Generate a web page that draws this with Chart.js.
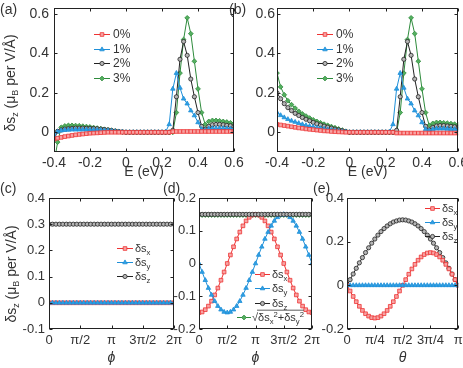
<!DOCTYPE html>
<html>
<head>
<meta charset="utf-8">
<title>spin response panels</title>
<script src="https://cdn.jsdelivr.net/npm/chart.js@4.4.0/dist/chart.umd.min.js"></script>
<style>
  body { margin: 0; background: #fff; }
  #fig { position: relative; width: 463px; height: 368px; overflow: hidden;
         font-family: "Liberation Sans", Arial, Helvetica, sans-serif; color: #333; }
  #fig canvas { position: absolute; left: 0; top: 0; }
  .tag { position: absolute; font-size: 14px; line-height: 16px; z-index: 5; }
  .ylab { position: absolute; font-size: 14px; line-height: 16px; white-space: nowrap; z-index: 5;
          transform: translate(-50%, -50%) rotate(-90deg); }
  .ylab sub { font-size: 9px; vertical-align: -3px; line-height: 0; }
</style>
</head>
<body>
<div id="fig">
  <canvas id="ca" width="463" height="368"></canvas>
  <canvas id="cb" width="463" height="368"></canvas>
  <canvas id="cc" width="463" height="368"></canvas>
  <canvas id="cd" width="463" height="368"></canvas>
  <canvas id="ce" width="463" height="368"></canvas>
  <div class="tag" style="left:0;top:1px">(a)</div>
  <div class="tag" style="left:229px;top:1px">(b)</div>
  <div class="tag" style="left:0;top:180px">(c)</div>
  <div class="tag" style="left:163px;top:180px">(d)</div>
  <div class="tag" style="left:313px;top:180px">(e)</div>
  <div class="ylab" style="left:10px;top:83px">δs<sub>z</sub> (μ<sub>B</sub> per V/Å)</div>
  <div class="ylab" style="left:11px;top:274px">δs<sub>z</sub> (μ<sub>B</sub> per V/Å)</div>
</div>
<script>
// energies for (a), (b)
var E = [-0.4,-0.38,-0.36,-0.34,-0.32,-0.3,-0.28,-0.26,-0.24,-0.22,-0.2,-0.18,-0.16,-0.14,-0.12,-0.1,-0.08,-0.06,-0.04,-0.02,
  0,0.02,0.04,0.06,0.08,0.1,0.12,0.14,0.16,0.18,0.2,0.22,0.24,0.26,0.28,0.3,0.32,0.34,0.36,0.38,0.4,0.42,0.44,0.46,0.48,0.5,0.52,0.54,0.56,0.58,0.6];
var strainLabels = ['0%', '1%', '2%', '3%'];

// (a)
var a0 = [-0.035,-0.03,-0.026,-0.022,-0.019,-0.016,-0.013,-0.011,-0.009,-0.007,-0.005,-0.004,-0.003,-0.002,-0.001,0,
  0,0,0,0,0,0,0,0,0,0,0,0,0,0,0,0,0,
  0.003,0.004,0.004,0.004,0.004,0.004,0.004,0.004,0.004,0.004,0.004,0.004,0.004,0.004,0.004,0.004,0.004,0.004];
var a1 = [-0.015,0.003,0.008,0.011,0.012,0.013,0.013,0.013,0.013,0.013,0.012,0.012,0.011,0.01,0.009,0.008,0.006,0.004,0.002,0.001,0,
  0,0,0,0,0,0,0,0,0,0,
  0.002,0.04,0.22,0.3,0.225,0.17,0.145,0.11,0.085,0.05,0.015,0.01,0.018,0.02,0.02,0.02,0.02,0.019,0.018,0.017];
var a2 = [-0.035,0.005,0.012,0.016,0.018,0.02,0.021,0.021,0.021,0.02,0.02,0.019,0.018,0.016,0.014,0.012,0.009,0.006,0.004,0.002,0,
  0,0,0,0,0,0,0,0,0,0,0,0,
  0.01,0.18,0.37,0.46,0.39,0.27,0.18,0.1,0.03,0.015,0.03,0.038,0.04,0.04,0.038,0.035,0.033,0.03];
var a3 = [-0.16,-0.05,0.025,0.032,0.035,0.035,0.034,0.033,0.031,0.029,0.027,0.024,0.021,0.018,0.015,0.012,0.009,0.006,0.004,0.002,0,
  0,0,0,0,0,0,0,0,0,0,0,0,0,
  0.1,0.3,0.47,0.58,0.5,0.36,0.22,0.1,0.04,0.055,0.06,0.06,0.058,0.055,0.052,0.048,0.045];

// (b)
var b0 = [0.04,0.037,0.034,0.031,0.028,0.025,0.022,0.02,0.017,0.015,0.013,0.011,0.009,0.007,0.006,0.004,0.003,0.002,0.001,0,0,
  0,0,0,0,0,0,0,0,0,0,0,0,
  -0.004,-0.004,-0.004,-0.004,-0.004,-0.004,-0.004,-0.004,-0.004,-0.004,-0.004,-0.004,-0.004,-0.004,-0.004,-0.004,-0.004,-0.004];
var b1 = [0.1,0.086,0.075,0.066,0.058,0.052,0.046,0.04,0.035,0.031,0.027,0.023,0.02,0.017,0.014,0.011,0.008,0.006,0.004,0.002,0,
  0,0,0,0,0,0,0,0,0,0,
  0.002,0.04,0.22,0.3,0.225,0.17,0.145,0.11,0.085,0.05,0.015,0.008,0.015,0.018,0.018,0.018,0.017,0.016,0.015,0.014];
var b2 = [0.2,0.17,0.145,0.125,0.11,0.096,0.085,0.075,0.066,0.058,0.05,0.043,0.037,0.031,0.026,0.021,0.016,0.012,0.008,0.004,0,
  0,0,0,0,0,0,0,0,0,0,0,0,
  0.01,0.18,0.37,0.46,0.39,0.27,0.18,0.1,0.03,0.012,0.025,0.032,0.034,0.034,0.032,0.03,0.028,0.026];
var b3 = [0.3,0.23,0.19,0.16,0.14,0.122,0.106,0.093,0.082,0.072,0.063,0.055,0.048,0.041,0.035,0.029,0.023,0.017,0.011,0.005,0,
  0,0,0,0,0,0,0,0,0,0,0,0,0,
  0.1,0.3,0.47,0.58,0.5,0.36,0.22,0.1,0.035,0.045,0.05,0.05,0.048,0.046,0.044,0.041,0.038];

// (c), (d): phi in degrees
var phi = [0,10,20,30,40,50,60,70,80,90,100,110,120,130,140,150,160,170,180,190,200,210,220,230,240,250,260,270,280,290,300,310,320,330,340,350,360];
var cX = [0,0,0,0,0,0,0,0,0,0, 0,0,0,0,0,0,0,0,0,0, 0,0,0,0,0,0,0,0,0,0, 0,0,0,0,0,0,0];
var cY = [0,0,0,0,0,0,0,0,0,0, 0,0,0,0,0,0,0,0,0,0, 0,0,0,0,0,0,0,0,0,0, 0,0,0,0,0,0,0];
var cZ = [0.3,0.3,0.3,0.3,0.3,0.3,0.3,0.3,0.3,0.3, 0.3,0.3,0.3,0.3,0.3,0.3,0.3,0.3,0.3,0.3,
  0.3,0.3,0.3,0.3,0.3,0.3,0.3,0.3,0.3,0.3, 0.3,0.3,0.3,0.3,0.3,0.3,0.3];
var dX = [-0.15,-0.148,-0.141,-0.13,-0.115,-0.096,-0.075,-0.051,-0.026,0,0.026,0.051,0.075,0.096,0.115,0.13,0.141,0.148,0.15,
  0.148,0.141,0.13,0.115,0.096,0.075,0.051,0.026,0,-0.026,-0.051,-0.075,-0.096,-0.115,-0.13,-0.141,-0.148,-0.15];
var dY = [0,-0.026,-0.051,-0.075,-0.096,-0.115,-0.13,-0.141,-0.148,-0.15,-0.148,-0.141,-0.13,-0.115,-0.096,-0.075,-0.051,-0.026,0,
  0.026,0.051,0.075,0.096,0.115,0.13,0.141,0.148,0.15,0.148,0.141,0.13,0.115,0.096,0.075,0.051,0.026,0];
var dZ = [0.15,0.15,0.15,0.15,0.15,0.15,0.15,0.15,0.15,0.15, 0.15,0.15,0.15,0.15,0.15,0.15,0.15,0.15,0.15,0.15,
  0.15,0.15,0.15,0.15,0.15,0.15,0.15,0.15,0.15,0.15, 0.15,0.15,0.15,0.15,0.15,0.15,0.15];
var dR = [0.148,0.148,0.148,0.148,0.148,0.148,0.148,0.148,0.148,0.148, 0.148,0.148,0.148,0.148,0.148,0.148,0.148,0.148,0.148,0.148,
  0.148,0.148,0.148,0.148,0.148,0.148,0.148,0.148,0.148,0.148, 0.148,0.148,0.148,0.148,0.148,0.148,0.148];

// (e): theta in degrees
var theta = [0,5,10,15,20,25,30,35,40,45,50,55,60,65,70,75,80,85,90,95,100,105,110,115,120,125,130,135,140,145,150,155,160,165,170,175,180];
var eX = [0,-0.026,-0.051,-0.075,-0.096,-0.115,-0.13,-0.141,-0.148,-0.15,-0.148,-0.141,-0.13,-0.115,-0.096,-0.075,-0.051,-0.026,0,
  0.026,0.051,0.075,0.096,0.115,0.13,0.141,0.148,0.15,0.148,0.141,0.13,0.115,0.096,0.075,0.051,0.026,0];
var eY = [0,0,0,0,0,0,0,0,0,0, 0,0,0,0,0,0,0,0,0,0, 0,0,0,0,0,0,0,0,0,0, 0,0,0,0,0,0,0];
var eZ = [0,0.026,0.052,0.078,0.103,0.127,0.15,0.172,0.193,0.212,0.23,0.246,0.26,0.272,0.282,0.29,0.295,0.299,0.3,
  0.299,0.295,0.29,0.282,0.272,0.26,0.246,0.23,0.212,0.193,0.172,0.15,0.127,0.103,0.078,0.052,0.026,0];

// ticks
var ticksE = [-0.4, -0.2, 0, 0.2, 0.4, 0.6];
var ticksAB = [0, 0.2, 0.4, 0.6];
var ticksPhi = [0, 90, 180, 270, 360];
var labelsPhi = ['0', 'π/2', 'π', '3π/2', '2π'];
var ticksTheta = [0, 45, 90, 135, 180];
var labelsTheta = ['0', 'π/4', 'π/2', '3π/4', 'π'];
var ticksC = [-0.1, 0, 0.1, 0.2, 0.3, 0.4];
var ticksD = [-0.2, -0.1, 0, 0.1, 0.2];
var ticksEy = [-0.2, 0, 0.2, 0.4];

var FONT = '"Liberation Sans", Arial, Helvetica, sans-serif';
var TXT = '#333';
var RED = {line: '#ee3333', fill: '#f7a3a3', style: 'rect', r: 2.6};
var BLUE = {line: '#1e8fd8', fill: '#2f9fe3', style: 'triangle', r: 2.6};
var BLACK = {line: '#222', fill: '#b5b5b5', style: 'circle', r: 2.1};
var GREEN = {line: '#2e8b3c', fill: '#55b060', style: 'rectRot', r: 2.4};

function fmt(v) {
    return String(Math.round(v * 100) / 100);
}

function series(xs, ys, st, order) {
    return {
        data: xs.map(function (x, i) { return {x: x, y: ys[i]}; }),
        borderColor: st.line, borderWidth: 1, tension: 0,
        pointStyle: st.style, pointRadius: st.r, pointBorderWidth: 0.8,
        pointBorderColor: st.line, pointBackgroundColor: st.fill,
        order: order || 0
    };
}

// box with inward ticks on all four sides
var framePlugin = {
    id: 'frame',
    afterDraw: function (chart) {
        var ctx = chart.ctx, a = chart.chartArea, sx = chart.scales.x, sy = chart.scales.y;
        var l = Math.round(a.left) + 0.5, r = Math.round(a.right) - 0.5;
        var t = Math.round(a.top) + 0.5, b = Math.round(a.bottom) - 0.5;
        ctx.save();
        ctx.strokeStyle = '#222';
        ctx.lineWidth = 1;
        ctx.strokeRect(l, t, r - l, b - t);
        ctx.beginPath();
        sx.ticks.forEach(function (tk) {
            var p = Math.round(sx.getPixelForValue(tk.value)) + 0.5;
            ctx.moveTo(p, b); ctx.lineTo(p, b - 3);
            ctx.moveTo(p, t); ctx.lineTo(p, t + 3);
        });
        sy.ticks.forEach(function (tk) {
            var p = Math.round(sy.getPixelForValue(tk.value)) + 0.5;
            ctx.moveTo(l, p); ctx.lineTo(l + 3, p);
            ctx.moveTo(r, p); ctx.lineTo(r - 3, p);
        });
        ctx.stroke();
        ctx.restore();
    }
};

// text with sub/superscripts and an optional overline
function drawRich(ctx, parts, x, y, size) {
    var cx = x, o0 = null, o1 = null;
    ctx.fillStyle = TXT;
    ctx.textAlign = 'left';
    ctx.textBaseline = 'alphabetic';
    parts.forEach(function (p) {
        var fs = (p.sub || p.sup) ? size * 0.7 : size;
        ctx.font = fs + 'px ' + FONT;
        var dy = p.sub ? size * 0.3 : (p.sup ? -size * 0.4 : 0);
        ctx.fillText(p.t, cx, y + size * 0.36 + dy);
        var w = ctx.measureText(p.t).width;
        if (p.over) {
            if (o0 === null) o0 = cx;
            o1 = cx + w;
        }
        cx += w;
    });
    if (o0 !== null) {
        ctx.strokeStyle = TXT;
        ctx.lineWidth = 0.8;
        ctx.beginPath();
        ctx.moveTo(o0 - 1, y - size * 0.62);
        ctx.lineTo(o1, y - size * 0.62);
        ctx.stroke();
    }
}

function makeLegend(items, size) {
    return {
        id: 'panelLegend',
        afterDraw: function (chart) {
            var ctx = chart.ctx;
            items.forEach(function (it) {
                var ds = chart.data.datasets[it.ds];
                ctx.save();
                ctx.strokeStyle = ds.borderColor;
                ctx.lineWidth = 1;
                ctx.beginPath();
                ctx.moveTo(it.x0, it.y + 0.5);
                ctx.lineTo(it.x1, it.y + 0.5);
                ctx.stroke();
                ctx.fillStyle = ds.pointBackgroundColor;
                ctx.strokeStyle = ds.pointBorderColor;
                ctx.lineWidth = 0.8;
                Chart.helpers.drawPoint(ctx, {pointStyle: ds.pointStyle, radius: ds.pointRadius, rotation: 0, borderWidth: 0.8},
                    (it.x0 + it.x1) / 2, it.y + 0.5);
                drawRich(ctx, it.parts, it.tx, it.y, size);
                ctx.restore();
            });
        }
    };
}

function panel(id, box, xo, yo, datasets, legendItems, legendSize) {
    var W = 463, H = 368;
    var pb = H - xo.titleY - 14 * 1.2 / 2;
    var xh = H - pb - box.B;
    return new Chart(document.getElementById(id), {
        type: 'line',
        data: {datasets: datasets},
        options: {
            responsive: false,
            animation: false,
            devicePixelRatio: 1,
            layout: {padding: {left: 0, top: box.T, right: W - box.R, bottom: pb}},
            plugins: {legend: {display: false}, tooltip: {enabled: false}},
            scales: {
                x: {
                    type: 'linear', min: xo.min, max: xo.max,
                    grid: {display: false, drawTicks: false}, border: {display: false},
                    afterBuildTicks: function (s) { s.ticks = xo.ticks.map(function (v) { return {value: v}; }); },
                    afterFit: function (s) { s.height = xh; s.paddingLeft = 0; s.paddingRight = 0; },
                    ticks: {
                        padding: xo.pad, maxRotation: 0, autoSkip: false, color: TXT,
                        font: {size: xo.fs, family: FONT},
                        callback: function (v, i) { return xo.labels ? xo.labels[i] : fmt(v); }
                    },
                    title: {
                        display: true, text: xo.title, padding: 0, color: TXT,
                        font: {size: 14, family: FONT, style: xo.italic ? 'italic' : 'normal'}
                    }
                },
                y: {
                    min: yo.min, max: yo.max,
                    grid: {display: false, drawTicks: false}, border: {display: false},
                    afterBuildTicks: function (s) { s.ticks = yo.ticks.map(function (v) { return {value: v}; }); },
                    afterFit: function (s) { s.width = box.L; s.paddingTop = 0; s.paddingBottom = 0; },
                    ticks: {
                        padding: yo.pad, autoSkip: false, color: TXT,
                        font: {size: yo.fs, family: FONT},
                        callback: function (v) { return fmt(v); }
                    }
                }
            }
        },
        plugins: [framePlugin, makeLegend(legendItems, legendSize)]
    });
}

function pct(ds, i, x0, x1, tx, y) {
    return {ds: ds, x0: x0, x1: x1, tx: tx, y: y, parts: [{t: strainLabels[i]}]};
}
function ds(ds, comp, x0, x1, tx, y) {
    return {ds: ds, x0: x0, x1: x1, tx: tx, y: y, parts: [{t: 'δs'}, {t: comp, sub: true}]};
}

var rowsTop = [34, 49, 63, 78];

panel('ca', {L: 54, T: 8, R: 234, B: 152},
    {min: -0.4, max: 0.6, ticks: ticksE, title: 'E (eV)', titleY: 172, pad: 3, fs: 14},
    {min: -0.1, max: 0.63, ticks: ticksAB, pad: 5, fs: 14},
    [series(E, a0, RED), series(E, a1, BLUE), series(E, a2, BLACK), series(E, a3, GREEN)],
    [0, 1, 2, 3].map(function (i) { return pct(i, i, 94, 110, 113, rowsTop[i]); }), 12);

panel('cb', {L: 277, T: 8, R: 460, B: 152},
    {min: -0.4, max: 0.6, ticks: ticksE, title: 'E (eV)', titleY: 172, pad: 3, fs: 14},
    {min: -0.1, max: 0.63, ticks: ticksAB, pad: 2, fs: 14},
    [series(E, b0, RED), series(E, b1, BLUE), series(E, b2, BLACK), series(E, b3, GREEN)],
    [0, 1, 2, 3].map(function (i) { return pct(i, i, 317, 333, 336, rowsTop[i]); }), 12);

panel('cc', {L: 49, T: 198, R: 174, B: 329},
    {min: 0, max: 360, ticks: ticksPhi, labels: labelsPhi, title: 'ϕ', italic: true, titleY: 358, pad: 4, fs: 13},
    {min: -0.1, max: 0.4, ticks: ticksC, pad: 4, fs: 13},
    [series(phi, cX, RED, 1), series(phi, cY, BLUE, 0), series(phi, cZ, BLACK, 2)],
    [ds(0, 'x', 117, 133, 135, 248), ds(1, 'y', 117, 133, 135, 262), ds(2, 'z', 117, 133, 135, 276)], 11);

var dLegend = [ds(0, 'x', 255, 270, 272, 274), ds(1, 'y', 255, 270, 272, 288), ds(2, 'z', 255, 270, 272, 303),
    {ds: 3, x0: 237, x1: 251, tx: 252, y: 317, parts: [
        {t: '√'}, {t: 'δs', over: true}, {t: 'x', sub: true, over: true}, {t: '2', sup: true, over: true},
        {t: '+δs', over: true}, {t: 'y', sub: true, over: true}, {t: '2', sup: true, over: true}]}];

panel('cd', {L: 199, T: 198, R: 312, B: 329},
    {min: 0, max: 360, ticks: ticksPhi, labels: labelsPhi, title: 'ϕ', italic: true, titleY: 358, pad: 4, fs: 13},
    {min: -0.2, max: 0.2, ticks: ticksD, pad: 3, fs: 13},
    [series(phi, dX, RED, 2), series(phi, dY, BLUE, 1), series(phi, dZ, BLACK, 0), series(phi, dR, GREEN, 3)],
    dLegend, 11);

panel('ce', {L: 347, T: 198, R: 460, B: 329},
    {min: 0, max: 180, ticks: ticksTheta, labels: labelsTheta, title: 'θ', italic: true, titleY: 358, pad: 4, fs: 13},
    {min: -0.2, max: 0.4, ticks: ticksEy, pad: 3, fs: 13},
    [series(theta, eX, RED, 1), series(theta, eY, BLUE, 0), series(theta, eZ, BLACK, 2)],
    [ds(0, 'x', 425, 440, 442, 208), ds(1, 'y', 425, 440, 442, 222), ds(2, 'z', 425, 440, 442, 236)], 11);
</script>
</body>
</html>
